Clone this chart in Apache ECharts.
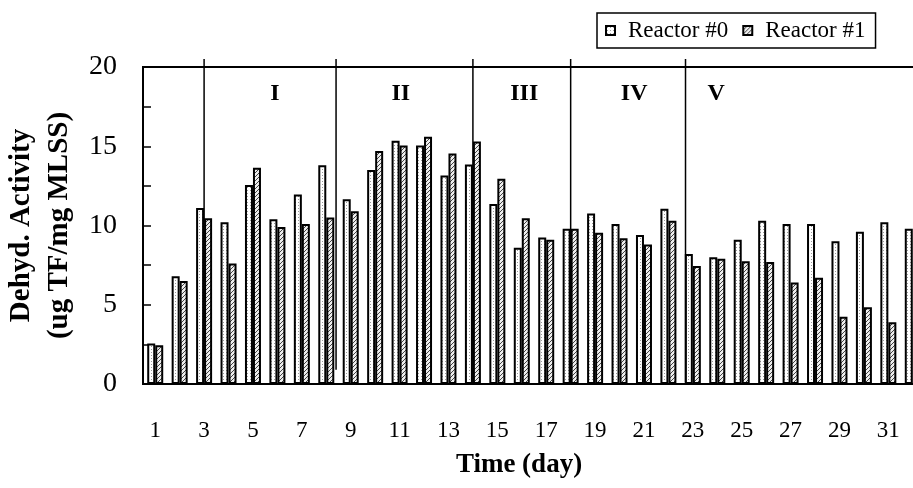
<!DOCTYPE html>
<html><head><meta charset="utf-8">
<script src="https://cdn.jsdelivr.net/npm/echarts@6/dist/echarts.min.js"></script>
<style>html,body{margin:0;padding:0;background:#fff}#c{width:913px;height:488px}</style>
</head><body><div id="c"></div>
<script>
var days = ['1','2','3','4','5','6','7','8','9','10','11','12','13','14','15','16','17','18','19','20','21','22','23','24','25','26','27','28','29','30','31','32'];
var reactor0 = [2.55, 6.8, 11.1, 10.2, 12.55, 10.4, 11.95, 13.8, 11.65, 13.5, 15.35, 15.05, 13.15, 13.85, 11.35, 8.6, 9.25, 9.8, 10.75, 10.1, 9.4, 11.05, 8.2, 8.0, 9.1, 10.3, 10.1, 10.1, 9.0, 9.6, 10.2, 9.8];
var reactor1 = [2.45, 6.5, 10.45, 7.6, 13.65, 9.9, 10.1, 10.5, 10.9, 14.7, 15.05, 15.6, 14.55, 15.3, 12.95, 10.45, 9.1, 9.8, 9.55, 9.2, 8.8, 10.3, 7.45, 7.9, 7.75, 7.7, 6.4, 6.7, 4.25, 4.85, 3.9, 3.95];
var phaseBounds = [3, 8.4, 14, 18, 22.7];
var phaseBottoms = [1.0, 0.9, 0, 0, 0.1];
var phaseTop = 20.5;
var phaseNames = ['I','II','III','IV','V'];
var phaseLabelX = [5.9, 11.05, 16.1, 20.6, 23.95];
var phaseLabelY = 18.3;

function dotPattern(){
  var c=document.createElement('canvas');c.width=3;c.height=3;
  var g=c.getContext('2d');g.fillStyle='#fff';g.fillRect(0,0,3,3);
  g.fillStyle='#999';g.fillRect(1,1,1,1);
  return c;
}
function hatchPattern(){
  var c=document.createElement('canvas');c.width=4;c.height=4;
  var g=c.getContext('2d');g.fillStyle='#eee';g.fillRect(0,0,4,4);
  g.fillStyle='#444';
  g.fillRect(0,3,1,1);g.fillRect(1,2,1,1);g.fillRect(2,1,1,1);g.fillRect(3,0,1,1);
  return c;
}
var serif='Liberation Serif';
var chart=echarts.init(document.getElementById('c'),null,{renderer:'canvas'});

var series=[
  {name:'Reactor #0',type:'bar',data:reactor0,barWidth:8,barGap:'0%',
   itemStyle:{color:{image:dotPattern(),repeat:'repeat'},borderColor:'#000',borderWidth:2}},
  {name:'Reactor #1',type:'bar',data:reactor1,barWidth:8,barGap:'0%',
   itemStyle:{color:{image:hatchPattern(),repeat:'repeat'},borderColor:'#000',borderWidth:2}},
  {name:'phaseLabels',type:'scatter',xAxisIndex:1,symbol:'circle',symbolSize:0,
   itemStyle:{color:'#000',opacity:1},
   data:phaseNames.map(function(n,i){return {name:n,value:[phaseLabelX[i],phaseLabelY]};}),
   label:{show:true,position:'inside',formatter:'{b}',opacity:1,
     fontFamily:serif,fontSize:24,fontWeight:'bold',color:'#000',textBorderWidth:0}}
];
phaseBounds.forEach(function(x,i){
  series.push({name:'phase'+i,type:'line',xAxisIndex:1,clip:false,symbol:'none',
    lineStyle:{color:'#000',width:1.5},
    data:[[x,phaseBottoms[i]],[x,phaseTop]]});
});

chart.setOption({
  animation:false,
  backgroundColor:'#fff',
  textStyle:{fontFamily:serif,color:'#000'},
  legend:{
    left:597, top:13, orient:'horizontal',
    borderColor:'#000', borderWidth:1.5, padding:[6,10,6,8],
    itemWidth:9, itemHeight:9, itemGap:14, icon:'rect',
    textStyle:{fontFamily:serif,fontSize:23,color:'#000',padding:[0,0,0,8]},
    data:['Reactor #0','Reactor #1']
  },
  grid:{left:143, right:-12, top:67, bottom:104, show:true, borderColor:'#000', borderWidth:2,
    backgroundColor:'transparent', outerBoundsMode:'none', containLabel:false},
  xAxis:[{
    type:'category', data:days,
    axisLine:{lineStyle:{color:'#000',width:2}},
    axisTick:{inside:true,length:8,lineStyle:{color:'#888',width:1.5}},
    axisLabel:{interval:1,margin:35,fontSize:23,fontFamily:serif,color:'#000'},
    name:'Time (day)', nameLocation:'middle', nameGap:68,
    nameTextStyle:{fontFamily:serif,fontSize:27,fontWeight:'bold',color:'#000',padding:[0,30,0,0]}
  },{
    type:'value', min:0.5, max:32.5, show:false
  }],
  yAxis:{
    type:'value', min:0, max:20, interval:2.5,
    axisLine:{show:true,lineStyle:{color:'#000',width:2}},
    axisTick:{show:true,inside:true,length:8,lineStyle:{color:'#000',width:1.5}},
    splitLine:{show:false},
    axisLabel:{fontSize:28,fontFamily:serif,color:'#000',margin:26,
      formatter:function(v){return v%5===0?String(v):'';}},
    name:'Dehyd. Activity\n(ug TF/mg MLSS)', nameLocation:'middle', nameRotate:90, nameGap:62,
    nameTextStyle:{fontFamily:serif,fontSize:29,fontWeight:'bold',color:'#000',lineHeight:38}
  },
  series:series
});
</script></body></html>
